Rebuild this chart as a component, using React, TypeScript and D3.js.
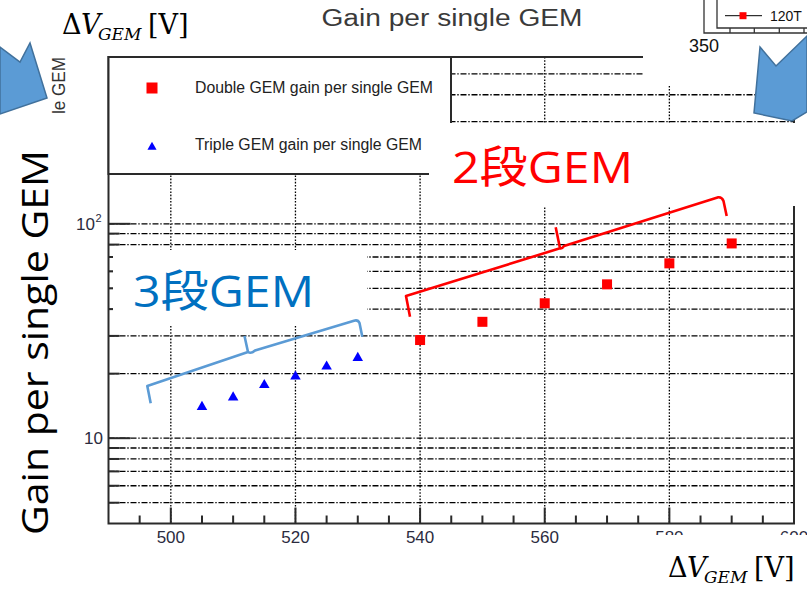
import * as d3 from 'd3'

// data
const doubleV = [540, 550, 560, 570, 580, 590]
const doubleGain = [28.7, 34.9, 42.6, 52.2, 65.4, 81.0]
const tripleV = [505, 510, 515, 520, 525, 530]
const tripleGain = [14.0, 15.5, 17.7, 19.4, 21.6, 23.7]

const xTicks = [500, 520, 540, 560, 580, 600]
const xMinor = d3.range(495, 600, 5).filter(v => v % 20 !== 0)
const yMajor = [10, 100]
const yMinor = [5, 6, 7, 8, 9, 20, 30, 40, 50, 60, 70, 80, 90, 200, 300, 400, 500]

const W = 807
const H = 591
const FR = { left: 108.5, right: 794, top: 57, bottom: 523.5 }

const ROOT_FONT = '"Liberation Sans", Arial, sans-serif'
const SLIDE_FONT = '"Open Sans", "Noto Sans CJK JP", sans-serif'
const GRID_H = '6,1.8,1.4,1.8'
const GRID_V = '1.6,1.6'

function DeltaV({ x, y }: { x: number; y: number }) {
  return (
    <text x={x} y={y} fontFamily='"DejaVu Serif", "Liberation Serif", serif' fill="#000">
      <tspan fontSize={27}>Δ</tspan>
      <tspan fontSize={27} fontStyle="italic" x={x + 19}>V</tspan>
      <tspan fontSize={17} fontStyle="italic" x={x + 36} dy={6}>GEM</tspan>
      <tspan fontSize={27} x={x + 86} dy={-6}>[V]</tspan>
    </text>
  )
}

export default function App() {
  const x = d3.scaleLinear().domain([490, 600]).range([FR.left, FR.right])
  const y = d3.scaleLog().domain([4, 600]).range([FR.bottom, FR.top])

  const tri = d3.symbol().type(d3.symbolTriangle).size(48)
  const triLeg = d3.symbol().type(d3.symbolTriangle).size(36)

  const hGrid = [...yMajor, ...yMinor]

  return (
    <svg width={W} height={H} style={{ display: 'block', position: 'absolute', left: 0, top: 0 }}>
      <rect width={W} height={H} fill="#fff" />

      {/* ROOT title */}
      <text x={452} y={26} textAnchor="middle" fontFamily={ROOT_FONT} fontSize={23} fill="#3a3a3a"
        textLength={261} lengthAdjust="spacingAndGlyphs">Gain per single GEM</text>

      {/* grid */}
      <g stroke="#000" strokeWidth={1.3} fill="none">
        {hGrid.map(v => (
          <line key={'h' + v} x1={FR.left} x2={FR.right} y1={y(v)} y2={y(v)} strokeDasharray={GRID_H} />
        ))}
        {xTicks.slice(0, 5).map(v => (
          <line key={'v' + v} x1={x(v)} x2={x(v)} y1={FR.top} y2={FR.bottom} strokeDasharray={GRID_V} />
        ))}
      </g>

      {/* frame and ticks */}
      <g stroke="#2a2a2a" strokeWidth={2} fill="none">
        <rect x={FR.left} y={FR.top} width={FR.right - FR.left} height={FR.bottom - FR.top} />
        {xTicks.map(v => (
          <line key={'xt' + v} x1={x(v)} x2={x(v)} y1={FR.bottom} y2={FR.bottom - 16} />
        ))}
        {xMinor.map(v => (
          <line key={'xm' + v} x1={x(v)} x2={x(v)} y1={FR.bottom} y2={FR.bottom - 8} />
        ))}
        {yMajor.map(v => (
          <line key={'yt' + v} x1={FR.left} x2={FR.left + 22} y1={y(v)} y2={y(v)} />
        ))}
        {yMinor.map(v => (
          <line key={'ym' + v} x1={FR.left} x2={FR.left + 11} y1={y(v)} y2={y(v)} />
        ))}
      </g>

      {/* tick labels */}
      <g fontFamily={ROOT_FONT} fontSize={17} fill="#2b2b3e">
        {xTicks.map(v => (
          <text key={'xl' + v} x={x(v)} y={FR.bottom + 19} textAnchor="middle">{v}</text>
        ))}
        <text x={103} y={y(10) + 6} textAnchor="end">10</text>
        <text x={95} y={y(100) + 6} textAnchor="end">10</text>
        <text x={95.5} y={y(100) - 2} fontSize={11}>2</text>
      </g>

      {/* legend */}
      <rect x={FR.left} y={FR.top} width={451 - FR.left} height={174 - FR.top} fill="#fff" stroke="#2a2a2a" strokeWidth={2} />
      <rect x={146.5} y={82.5} width={11} height={11} fill="#ff0000" />
      <path d={triLeg() ?? ''} transform="translate(152,147)" fill="#0000ff" />
      <g fontFamily={ROOT_FONT} fontSize={16} fill="#222">
        <text x={195} y={92.5} textLength={238} lengthAdjust="spacingAndGlyphs">Double GEM gain per single GEM</text>
        <text x={195} y={150} textLength={227} lengthAdjust="spacingAndGlyphs">Triple GEM gain per single GEM</text>
      </g>

      {/* slide text boxes covering the plot */}
      <rect x={429} y={123} width={W - 429} height={83} fill="#fff" />
      <rect x={113} y={250} width={254} height={76} fill="#fff" />
      <rect x={640} y={535} width={W - 640} height={H - 535} fill="#fff" />
      <rect x={643} y={0} width={W - 643} height={86} fill="#fff" />

      {/* data */}
      {doubleV.map((v, i) => (
        <rect key={'d' + v} x={x(v) - 5} y={y(doubleGain[i]) - 5} width={10} height={10} fill="#ff0000" />
      ))}
      {tripleV.map((v, i) => (
        <path key={'t' + v} d={tri() ?? ''} transform={`translate(${x(v)},${y(tripleGain[i])})`} fill="#0000ff" />
      ))}

      {/* inset fragment at top right */}
      <g stroke="#333" strokeWidth={1.3} fill="none">
        <polyline points="704,0 704,33 807,33" />
        <polyline points="717,0 717,28 807,28" />
        {[730, 754.3, 779.3, 804].map(t => (
          <line key={t} x1={t} x2={t} y1={28} y2={33} />
        ))}
        <line x1={725} x2={762} y1={15.7} y2={15.7} stroke="#000" strokeWidth={1} />
      </g>
      <rect x={739.5} y={12.2} width={7} height={7} fill="#ff0000" />
      <text x={770} y={21} fontFamily={ROOT_FONT} fontSize={14} fill="#111">120T</text>
      <text x={704} y={52} textAnchor="middle" fontFamily={ROOT_FONT} fontSize={18} fill="#111">350</text>

      {/* braces */}
      <path d="M150.7,403.3 L147.3,386 L248,352 L244.5,336 M248,352 Q251,354 255,350.5 L354,320.7 Q358,319.5 359.5,323 L362.3,336.7"
        fill="none" stroke="#5b9bd5" strokeWidth={2.6} strokeLinejoin="round" />
      <path d="M410,316.7 L406,296 L560,248.3 L555.7,227.3 M560,248.3 Q562,249 564,246 L718.3,197.3 Q722,197 723.5,201 L726.7,216"
        fill="none" stroke="#ff0000" strokeWidth={2.6} strokeLinejoin="round" />

      {/* annotations */}
      <text x={133} y={307} fontFamily={SLIDE_FONT} fontSize={44} fill="#0070c0"
        textLength={181} lengthAdjust="spacingAndGlyphs">3段GEM</text>
      <text x={452} y={183} fontFamily={SLIDE_FONT} fontSize={44} fill="#ff0000"
        textLength={181} lengthAdjust="spacingAndGlyphs">2段GEM</text>

      {/* clipped original y title */}
      <text transform="translate(65,57) rotate(-90)" textAnchor="end" fontFamily={ROOT_FONT} fontSize={18} fill="#333"
        textLength={57} lengthAdjust="spacingAndGlyphs">le GEM</text>

      {/* big slide y title */}
      <text transform="translate(48,535) rotate(-90)" fontFamily={SLIDE_FONT} fontSize={37} fill="#000"
        textLength={385} lengthAdjust="spacingAndGlyphs">Gain per single GEM</text>

      <DeltaV x={62} y={34} />
      <DeltaV x={668} y={577} />

      {/* arrows */}
      <polygon points="0,47 20,62 30,43 47,98 0,114" fill="#5b9bd5" stroke="#41719c" strokeWidth={1.5} />
      <polygon points="760,47 776,66 807,36 807,112 792,121 754,113" fill="#5b9bd5" stroke="#41719c" strokeWidth={1.5} />
    </svg>
  )
}
